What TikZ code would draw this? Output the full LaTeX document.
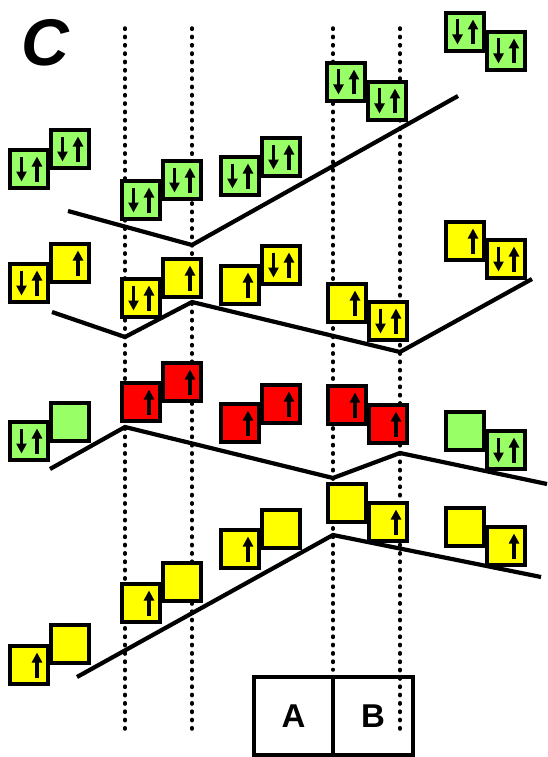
\documentclass[tikz,border=0pt]{standalone}
\usepackage{fontspec}
\setmainfont{Liberation Sans}
\usetikzlibrary{arrows.meta}
\definecolor{cgreen}{RGB}{153,255,102}
\definecolor{cyellow}{RGB}{255,255,0}
\definecolor{cred}{RGB}{255,0,0}
\tikzset{
  cellbox/.style={draw=black, line width=3.6pt, minimum size=37.5pt, inner sep=0pt, rectangle},
  spin/.style={line width=3.4pt, -{Triangle[length=10pt,width=10pt]}},
  level/.style={line width=4.2pt},
  guide/.style={line width=3.5pt, line cap=round, dash pattern=on 1.3pt off 7.03pt},
  labelbox/.style={draw, line width=4.2pt, minimum height=78pt, inner sep=0pt, font=\bfseries\fontsize{33}{33}\selectfont}
}
\newcommand\spinud[1]{%
  \draw[spin] ([shift={(-7.5,-12.5)}]#1.center) -- ([shift={(-7.5,12.5)}]#1.center);
  \draw[spin] ([shift={(8,12.5)}]#1.center) -- ([shift={(8,-12.5)}]#1.center);}
\newcommand\spinu[1]{%
  \draw[spin] ([shift={(8,12.5)}]#1.center) -- ([shift={(8,-12.5)}]#1.center);}
\begin{document}
\begin{tikzpicture}[x=1pt,y=-1pt]
\useasboundingbox (0,0) rectangle (547,757);
% guides
\coordinate (g1t) at (125,28); \coordinate (g1b) at (125,736);
\coordinate (g2t) at (192,28); \coordinate (g2b) at (192,736);
\coordinate (g3t) at (333,28); \coordinate (g3b) at (333,670);
\coordinate (g4t) at (400,28); \coordinate (g4b) at (400,736);
\foreach \g in {1,2,3,4} \draw[guide] (g\g t) -- (g\g b);
% title
\node[font=\bfseries\itshape\fontsize{66}{66}\selectfont, inner sep=0pt] (title) at (45,43) {C};
% level lines
\coordinate (a1) at (68,211); \coordinate (a2) at (192,245); \coordinate (a3) at (458,96);
\coordinate (b1) at (52,312); \coordinate (b2) at (125,337); \coordinate (b3) at (192,302); \coordinate (b4) at (400,352); \coordinate (b5) at (532,279);
\coordinate (c1) at (50,469); \coordinate (c2) at (125,427); \coordinate (c3) at (333,478); \coordinate (c4) at (400,453); \coordinate (c5) at (547,484);
\coordinate (d1) at (77,677); \coordinate (d2) at (333,535); \coordinate (d3) at (541,577);
\draw[level] (a1) -- (a2) -- (a3);
\draw[level] (b1) -- (b2) -- (b3) -- (b4) -- (b5);
\draw[level] (c1) -- (c2) -- (c3) -- (c4) -- (c5);
\draw[level] (d1) -- (d2) -- (d3);
% row 1 (green)
\node[cellbox, fill=cgreen] (p1l) at (29,169) {}; \node[cellbox, fill=cgreen] (p1r) at (70,149) {};
\node[cellbox, fill=cgreen] (p2l) at (141,200) {}; \node[cellbox, fill=cgreen] (p2r) at (182,180) {};
\node[cellbox, fill=cgreen] (p3l) at (240,176) {}; \node[cellbox, fill=cgreen] (p3r) at (281,157) {};
\node[cellbox, fill=cgreen] (p4l) at (346,82) {}; \node[cellbox, fill=cgreen] (p4r) at (387,101) {};
\node[cellbox, fill=cgreen] (p5l) at (465,32) {}; \node[cellbox, fill=cgreen] (p5r) at (506,51) {};
\foreach \n in {p1l,p1r,p2l,p2r,p3l,p3r,p4l,p4r,p5l,p5r} {\spinud{\n}}
% row 2 (yellow)
\node[cellbox, fill=cyellow] (q1l) at (29,283) {}; \node[cellbox, fill=cyellow] (q1r) at (70,263) {};
\node[cellbox, fill=cyellow] (q2l) at (141,298) {}; \node[cellbox, fill=cyellow] (q2r) at (182,278) {};
\node[cellbox, fill=cyellow] (q3l) at (240,285) {}; \node[cellbox, fill=cyellow] (q3r) at (281,265) {};
\node[cellbox, fill=cyellow] (q4l) at (347,303) {}; \node[cellbox, fill=cyellow] (q4r) at (388,321) {};
\node[cellbox, fill=cyellow] (q5l) at (465,241) {}; \node[cellbox, fill=cyellow] (q5r) at (506,259) {};
\foreach \n in {q1l,q2l,q3r,q4r,q5r} {\spinud{\n}}
\foreach \n in {q1r,q2r,q3l,q4l,q5l} {\spinu{\n}}
% row 3
\node[cellbox, fill=cgreen] (r1l) at (29,441) {}; \node[cellbox, fill=cgreen] (r1r) at (70,422) {};
\node[cellbox, fill=cred] (r2l) at (141,402) {}; \node[cellbox, fill=cred] (r2r) at (182,382) {};
\node[cellbox, fill=cred] (r3l) at (240,423) {}; \node[cellbox, fill=cred] (r3r) at (281,404) {};
\node[cellbox, fill=cred] (r4l) at (347,405) {}; \node[cellbox, fill=cred] (r4r) at (388,424) {};
\node[cellbox, fill=cgreen] (r5l) at (465,431) {}; \node[cellbox, fill=cgreen] (r5r) at (506,450) {};
\foreach \n in {r1l,r5r} {\spinud{\n}}
\foreach \n in {r2l,r2r,r3l,r3r,r4l,r4r} {\spinu{\n}}
% row 4 (yellow)
\node[cellbox, fill=cyellow] (s1l) at (29,665) {}; \node[cellbox, fill=cyellow] (s1r) at (70,644) {};
\node[cellbox, fill=cyellow] (s2l) at (141,603) {}; \node[cellbox, fill=cyellow] (s2r) at (182,582) {};
\node[cellbox, fill=cyellow] (s3l) at (240,549) {}; \node[cellbox, fill=cyellow] (s3r) at (281,529) {};
\node[cellbox, fill=cyellow] (s4l) at (347,503) {}; \node[cellbox, fill=cyellow] (s4r) at (388,522) {};
\node[cellbox, fill=cyellow] (s5l) at (465,527) {}; \node[cellbox, fill=cyellow] (s5r) at (506,546) {};
\foreach \n in {s1l,s2l,s3l,s4r,s5r} {\spinu{\n}}
% A / B
\node[labelbox, minimum width=79pt] (boxa) at (293.5,716) {A};
\node[labelbox, minimum width=80pt] (boxb) at (373,716) {B};
\end{tikzpicture}
\end{document}
